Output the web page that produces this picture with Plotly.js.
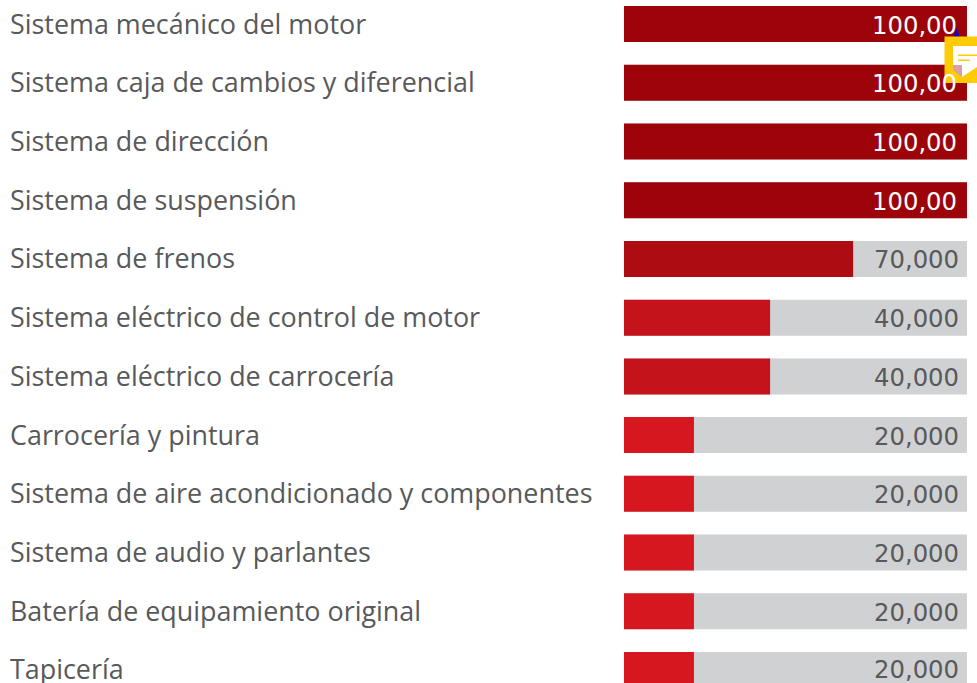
<!DOCTYPE html>
<html><head><meta charset="utf-8">
<script src="https://cdn.plot.ly/plotly-3.0.1.min.js"></script>
<style>html,body{margin:0;padding:0;background:#fff;overflow:hidden}#c{width:977px;height:683px}</style>
</head><body><div id="c"></div>
<script>
const categories = ["Sistema mecánico del motor","Sistema caja de cambios y diferencial","Sistema de dirección","Sistema de suspensión","Sistema de frenos","Sistema eléctrico de control de motor","Sistema eléctrico de carrocería","Carrocería y pintura","Sistema de aire acondicionado y componentes","Sistema de audio y parlantes","Batería de equipamiento original","Tapicería"];
const values = [100,100,100,100,66.8,42.6,42.6,20.4,20.4,20.4,20.4,20.4];
const valueLabels = ["100,00","100,00","100,00","100,00","70,000","40,000","40,000","20,000","20,000","20,000","20,000","20,000"];
const barColors = ["#9c0409","#9c0409","#9c0409","#9c0409","#ae0c13","#c4131a","#c4131a","#d7171f","#d7171f","#d7171f","#d7171f","#d7171f"];
const labelColors = ["#ffffff","#ffffff","#ffffff","#ffffff","#58595b","#58595b","#58595b","#58595b","#58595b","#58595b","#58595b","#58595b"];
const trackValues = categories.map(()=>100);
const W=977,H=683;
const px=x=>x/W, py=y=>1-y/H;
const rect=(x0,y0,x1,y1,fill)=>({type:'rect',xref:'paper',yref:'paper',x0:px(x0),x1:px(x1),y0:py(y0),y1:py(y1),fillcolor:fill,line:{width:0},layer:'above'});
const poly=(pts,fill)=>({type:'path',xref:'paper',yref:'paper',path:'M'+pts.map(p=>px(p[0])+','+py(p[1])).join('L')+'Z',fillcolor:fill,line:{width:0},layer:'above'});
const idx=categories.map((_,i)=>i);
const annotations=[];
categories.forEach((c,i)=>{
  annotations.push({xref:'paper',yref:'y',x:px(8),y:i,xanchor:'left',yanchor:'middle',yshift:i===11?2:1,text:c,showarrow:false,font:{family:'"Open Sans", sans-serif',size:26.9,color:'#58595b'}});
  annotations.push({xref:'x',yref:'y',x:100,y:i,xanchor:'right',yanchor:'middle',xshift:i<4?-8:-6,yshift:i===11?1:-1,text:valueLabels[i],showarrow:false,font:{family:'"DejaVu Sans", sans-serif',size:24.3,color:labelColors[i]}});
});
const traces=[
 {type:'bar',orientation:'h',y:idx,x:trackValues,marker:{color:'#d0d1d3'},width:0.613,hoverinfo:'skip'},
 {type:'bar',orientation:'h',y:idx,x:values,marker:{color:barColors},width:0.613,hoverinfo:'skip'}
];
const layout={width:W,height:H,margin:{l:0,r:0,t:0,b:0},barmode:'overlay',showlegend:false,
 paper_bgcolor:'#fff',plot_bgcolor:'#fff',
 xaxis:{range:[-181.92,102.92],visible:false,fixedrange:true},
 yaxis:{range:[11.221,-0.4087],visible:false,fixedrange:true},
 annotations,
 shapes:[
  poly([[953.5,36.5],[956.5,28],[959.5,36.5]],'#0a00cc'),
  rect(944.5,36.5,977,83,'#ffcb05'),
  rect(953,46,977,65,'#ffffff'),
  poly([[962,65],[977,65],[977,67],[962,77]],'#ffffff'),
  poly([[953,65],[962,65],[962,77],[953,70]],'#d9a0a5'),
  rect(958,54.5,977,56,'#ffcb05'),
  rect(958,59.5,970,61,'#ffcb05')
 ]};
Plotly.newPlot('c',traces,layout,{displayModeBar:false,staticPlot:true});
</script></body></html>
